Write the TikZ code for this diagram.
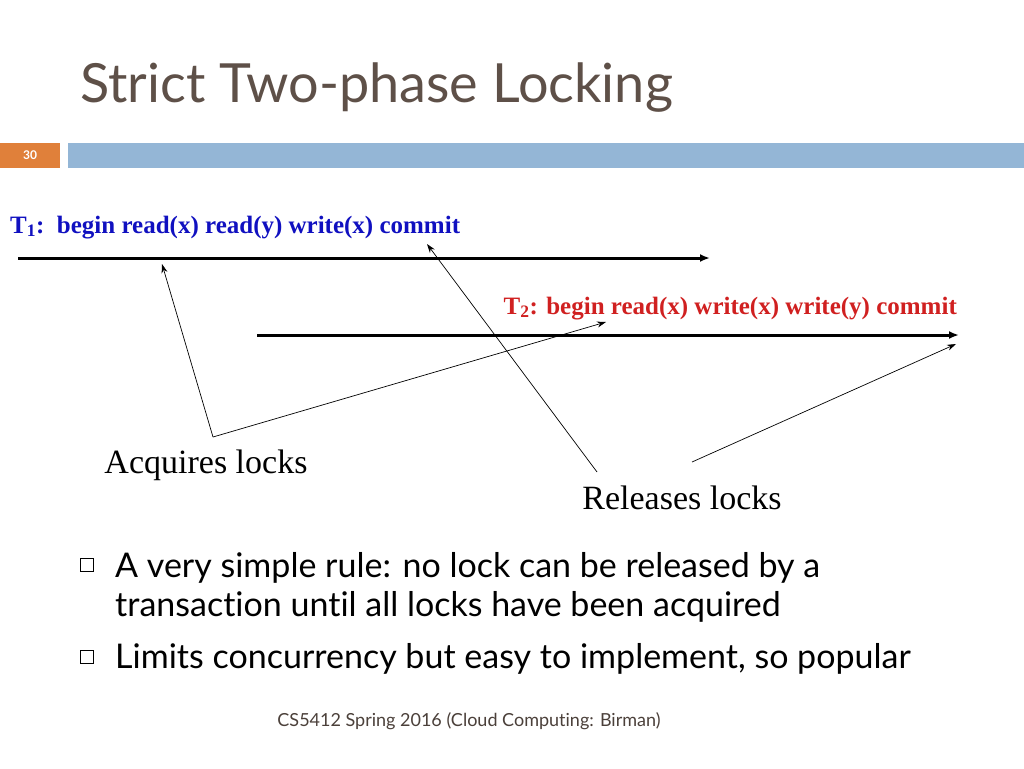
\documentclass[tikz,border=0pt]{standalone}
\usepackage{fontspec}
\setmainfont{Liberation Serif}
\newfontfamily\gill[Ligatures={NoCommon,NoRare}]{Lato}
\definecolor{titlec}{HTML}{5E5048}
\definecolor{barblue}{HTML}{94B6D6}
\definecolor{barorange}{HTML}{E0803A}
\definecolor{tblue}{HTML}{1010C0}
\definecolor{tred}{HTML}{D02020}
\usetikzlibrary{arrows.meta}
\begin{document}
\begin{tikzpicture}[x=1pt,y=-1pt,
  tl/.style={line width=3pt,-{Latex[length=10pt,width=8pt]}},
  ptr/.style={line width=0.7pt,-{Stealth[length=9pt,width=6pt]}},
  lbl/.style={font=\fontsize{34}{36}\selectfont,inner sep=0pt},
  bul/.style={font=\gill\fontsize{34}{41}\selectfont,anchor=north west,inner sep=0pt,align=left}]
\useasboundingbox (0,0) rectangle (1024,768);
\node[anchor=base west,text=titlec,font=\gill\fontsize{54}{58}\selectfont,inner sep=0pt] (title) at (80,102) {Strict Two-phase Locking};
\fill[barorange] (0,143) rectangle (60,168);
\node[text=white,font=\gill\bfseries\fontsize{12}{14}\selectfont] (num) at (30,155) {30};
\fill[barblue] (68,143) rectangle (1024,168);
\node[anchor=base west,text=tblue,font=\bfseries\fontsize{25}{27}\selectfont,inner sep=0pt] (t1) at (10,233) {T\textsubscript{1}:\ \ begin read(x) read(y) write(x) commit};
\node[anchor=base east,text=tred,font=\bfseries\fontsize{25}{27}\selectfont,inner sep=0pt] (t2) at (957,314) {T\textsubscript{2}: begin read(x) write(x) write(y) commit};
\coordinate (a1) at (18,258); \coordinate (a2) at (710,258);
\coordinate (b1) at (257,335); \coordinate (b2) at (959,335);
\draw[tl] (a1) -- (a2);
\draw[tl] (b1) -- (b2);
\coordinate (acq) at (213,437);
\coordinate (rel1) at (597,472);
\coordinate (rel2) at (692,462);
\coordinate (p1) at (162,264);
\coordinate (p2) at (606,322);
\coordinate (p3) at (427,244);
\coordinate (p4) at (956,344);
\draw[ptr] (acq) -- (p1);
\draw[ptr] (acq) -- (p2);
\draw[ptr] (rel1) -- (p3);
\draw[ptr] (rel2) -- (p4);
\node[lbl] (al) at (206,465) {Acquires locks};
\node[lbl] (rl) at (682,498) {Releases locks};
\node[draw,line width=0.8pt,minimum size=13pt,inner sep=0pt] (s1) at (87,565) {};
\node[draw,line width=0.8pt,minimum size=13pt,inner sep=0pt] (s2) at (87,657) {};
\node[bul] (b1t) at (115,552) {A very simple rule: no lock can be released by a\\[-2pt]transaction until all locks have been acquired};
\node[bul] (b2t) at (115,643) {Limits concurrency but easy to implement, so popular};
\node[text=titlec!80!black,font=\gill\fontsize{18}{20}\selectfont] (foot) at (469,721) {CS5412 Spring 2016 (Cloud Computing: Birman)};
\end{tikzpicture}
\end{document}
